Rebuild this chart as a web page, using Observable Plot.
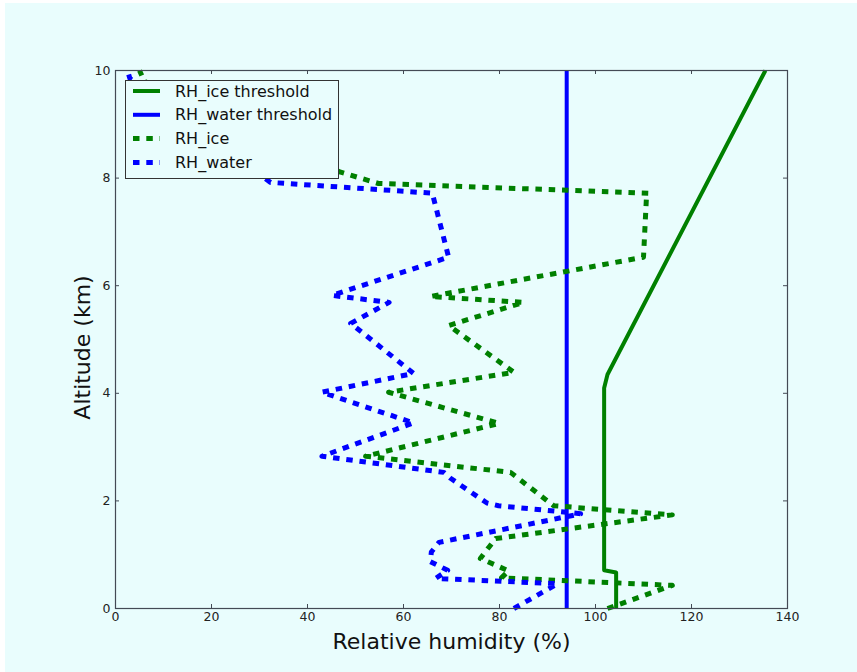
<!DOCTYPE html>
<html>
<head>
<meta charset="utf-8">
<script src="https://cdn.jsdelivr.net/npm/d3@7"></script>
<script src="https://cdn.jsdelivr.net/npm/@observablehq/plot@0.6"></script>
<style>
  html, body { margin: 0; padding: 0; background: #ffffff; }
  #page { position: absolute; left: 5px; top: 3px; width: 852px; height: 669px; background: #e9fdfd; }
  #chart { position: absolute; left: 0; top: 0; }
  #legend { position: absolute; left: 125px; top: 80px; }
</style>
</head>
<body>
<div id="page"></div>
<div id="chart"></div>
<div id="legend"></div>
<script>
// Relative humidity profiles (x: %, y: altitude in km)
const iceThresholdRH  = [104.3, 104.3, 101.8, 101.8, 102.5, 135.4];
const iceThresholdAlt = [0, 0.67, 0.71, 4.1, 4.35, 10];

const waterThresholdRH  = [94, 94];
const waterThresholdAlt = [0, 10];

const iceRH  = [102.5, 116, 80.4, 81.9, 76, 77.8, 79.2, 116, 91.3, 82.3, 52.1, 79.9, 56.9, 83, 69.4, 85, 65.6, 110, 110.6, 111, 54.8, 46.9, 6, 5];
const iceAlt = [0, 0.43, 0.57, 0.7, 0.93, 1.14, 1.3, 1.74, 1.91, 2.53, 2.83, 3.44, 4.02, 4.39, 5.26, 5.69, 5.8, 6.53, 7.62, 7.72, 7.9, 8.11, 9.8, 10];

const waterRH  = [83, 92.1, 66.7, 69.2, 65.6, 65.8, 67.4, 96.9, 94, 79.8, 77.4, 69.8, 68.4, 43, 62.1, 43, 62.1, 49, 57, 45.1, 69.4, 66, 32.3, 3, 2.5];
const waterAlt = [0, 0.46, 0.56, 0.71, 0.87, 1.05, 1.23, 1.76, 1.79, 1.91, 1.96, 2.42, 2.53, 2.83, 3.45, 4.02, 4.37, 5.3, 5.69, 5.82, 6.53, 7.72, 7.92, 9.85, 10];

const xTicks = [0, 20, 40, 60, 80, 100, 120, 140];
const yTicks = [0, 2, 4, 6, 8, 10];

const seriesNames  = ["RH_ice threshold", "RH_water threshold", "RH_ice", "RH_water"];
const seriesColors = ["#008000", "#0000ff", "#008000", "#0000ff"];
const seriesDotted = [false, false, true, true];

const xLabel = "Relative humidity (%)";
const yLabel = "Altitude (km)";

const toRows = (xs, ys) => xs.map((x, i) => ({rh: x, alt: ys[i]}));
const series = [
  toRows(iceThresholdRH, iceThresholdAlt),
  toRows(waterThresholdRH, waterThresholdAlt),
  toRows(iceRH, iceAlt),
  toRows(waterRH, waterAlt)
];

const W = 857, H = 672;
const mL = 115, mR = 70, mT = 70, mB = 64;
const innerW = W - mL - mR, innerH = H - mT - mB;
const frameColor = "#444a55";
const dash = "6.5,6.8";

const lineMarks = series.map((rows, i) => Plot.line(rows, {
  x: "rh", y: "alt",
  stroke: seriesColors[i],
  strokeWidth: seriesDotted[i] ? 5 : 4,
  strokeDasharray: seriesDotted[i] ? dash : null,
  strokeLinecap: "butt",
  strokeLinejoin: "round",
  curve: "linear"
}));

const chart = Plot.plot({
  width: W, height: H,
  marginLeft: mL, marginRight: mR, marginTop: mT, marginBottom: mB,
  style: {background: "transparent", fontFamily: "DejaVu Sans, sans-serif", fontSize: "12.5px", color: "#222"},
  x: {domain: [0, 140]},
  y: {domain: [0, 10]},
  marks: [
    ...lineMarks,
    Plot.frame({stroke: frameColor, strokeWidth: 1.2}),
    // inward ticks on all four sides
    Plot.tickX(xTicks, {x: d => d, insetTop: innerH - 4, stroke: frameColor}),
    Plot.tickX(xTicks, {x: d => d, insetBottom: innerH - 4, stroke: frameColor}),
    Plot.tickY(yTicks, {y: d => d, insetRight: innerW - 4, stroke: frameColor}),
    Plot.tickY(yTicks, {y: d => d, insetLeft: innerW - 4, stroke: frameColor}),
    Plot.axisX(xTicks, {tickSize: 0, tickPadding: 4, label: null, tickFormat: d => String(d)}),
    Plot.axisY(yTicks, {tickSize: 0, tickPadding: 5, label: null, tickFormat: d => String(d)}),
    Plot.text([xLabel], {frameAnchor: "bottom", lineAnchor: "bottom", textAnchor: "middle", dy: 40, fontSize: 22, fill: "#111", text: d => d}),
    Plot.text([yLabel], {frameAnchor: "left", lineAnchor: "middle", textAnchor: "middle", dx: -33, dy: 8, rotate: -90, fontSize: 22, fill: "#111", text: d => d})
  ]
});
document.getElementById("chart").appendChild(chart);

// legend box
const lg = d3.select("#legend").append("svg").attr("width", 214).attr("height", 99);
lg.append("rect").attr("x", 0.5).attr("y", 0.5).attr("width", 213).attr("height", 98)
  .attr("fill", "#e9fdfd").attr("stroke", "#333").attr("stroke-width", 1);
seriesNames.forEach((name, i) => {
  const cy = 11 + i * 23.8;
  lg.append("line").attr("x1", 8).attr("x2", 35).attr("y1", cy).attr("y2", cy)
    .attr("stroke", seriesColors[i]).attr("stroke-width", seriesDotted[i] ? 5 : 4)
    .attr("stroke-dasharray", seriesDotted[i] ? dash : null);
  lg.append("text").attr("x", 50).attr("y", cy).attr("dy", "0.35em")
    .attr("font-family", "DejaVu Sans, sans-serif").attr("font-size", 16).attr("fill", "#111")
    .text(name);
});
</script>
</body>
</html>
